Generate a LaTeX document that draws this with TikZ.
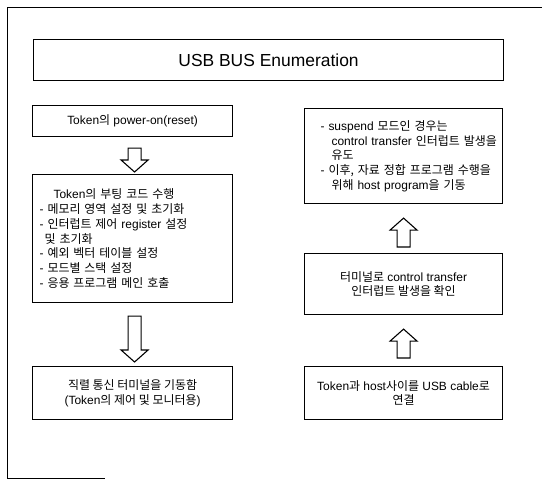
\documentclass[tikz,border=0pt]{standalone}
\usepackage{fontspec}
\setmainfont{Liberation Sans}
\newfontfamily\kr{Noto Sans CJK KR}
\usetikzlibrary{calc}
\tikzset{
  box/.style={draw, line width=1.1bp, rectangle, anchor=north west, inner sep=0pt,
    font=\fontsize{12}{14.8}\selectfont},
  harrowstyle/.style={draw, line width=1.1bp, fill=white, line join=miter},
  frame/.style={line width=1bp}
}
\newcommand\harrow[2]{\path[harrowstyle] let \p1=#1, \p2=#2, \p3=($#2!12bp!#1$) in
  (\x1-6.5bp,\y1) -- (\x1-6.5bp,\y3) -- (\x1-13.5bp,\y3) -- (\x2,\y2) -- (\x1+13.5bp,\y3)
  -- (\x1+6.5bp,\y3) -- (\x1+6.5bp,\y1) -- cycle;}
\begin{document}
\begin{tikzpicture}[x=1bp,y=-1bp]
\useasboundingbox[fill=white] (0,0) rectangle (542,483);
% outer frame
\draw[frame] (7,478) -- (7,8) -- (542,8);
\draw[frame] (7,478) -- (105,478);
% title
\node[box, minimum width=470bp, minimum height=41bp, font=\fontsize{17.5}{20}\selectfont] (T) at (33,39) {USB BUS Enumeration};
% left column
\node[box, minimum width=200bp, minimum height=31bp] (A) at (32,105) {Token{\kr 의} power-on(reset)};
\node[box, minimum width=200bp, minimum height=128bp, align=left, text width=186bp, inner xsep=7bp] (B) at (32,174) {%
\hspace*{14bp}Token{\kr 의 부팅 코드 수행}\\
- {\kr 메모리 영역 설정 및 초기화}\\
- {\kr 인터럽트 제어} register {\kr 설정}\\
\hspace*{5bp}{\kr 및 초기화}\\
- {\kr 예외 벡터 테이블 설정}\\
- {\kr 모드별 스택 설정}\\
- {\kr 응용 프로그램 메인 호출}};
\node[box, minimum width=200bp, minimum height=53bp, align=center] (C) at (32,366) {{\kr 직렬 통신 터미널을 기동함}\\(Token{\kr 의 제어 및 모니터용})};
% right column
\node[box, minimum width=198bp, minimum height=95bp, align=left, text width=198bp] (D) at (304,108) {%
\hspace*{16bp}- suspend {\kr 모드인 경우는}\\
\hspace*{27bp}control transfer {\kr 인터럽트 발생을}\\
\hspace*{27bp}{\kr 유도}\\
\hspace*{16bp}- {\kr 이후, 자료 정합 프로그램 수행을}\\
\hspace*{27bp}{\kr 위해} host program{\kr 을 기동}};
\node[box, minimum width=198bp, minimum height=61bp, align=center] (E) at (304,253) {{\kr 터미널로} control transfer\\{\kr 인터럽트 발생을 확인}};
\node[box, minimum width=198bp, minimum height=53bp, align=center] (F) at (304,366) {Token{\kr 과} host{\kr 사이를} USB cable{\kr 로}\\{\kr 연결}};
% arrow end points (y grows downward)
\coordinate (a1s) at ($(A.south)+(2,11)$);
\coordinate (a1e) at ($(B.north)+(2,-2)$);
\coordinate (a2s) at ($(B.south)+(2,13)$);
\coordinate (a2e) at ($(C.north)+(2,-4)$);
\coordinate (a3s) at ($(E.north)+(0,-6)$);
\coordinate (a3e) at ($(D.south)+(0,14)$);
\coordinate (a4s) at ($(F.north)+(0,-8)$);
\coordinate (a4e) at ($(E.south)+(0,14)$);
\harrow{(a1s)}{(a1e)}
\harrow{(a2s)}{(a2e)}
\harrow{(a3s)}{(a3e)}
\harrow{(a4s)}{(a4e)}
\end{tikzpicture}
\end{document}
